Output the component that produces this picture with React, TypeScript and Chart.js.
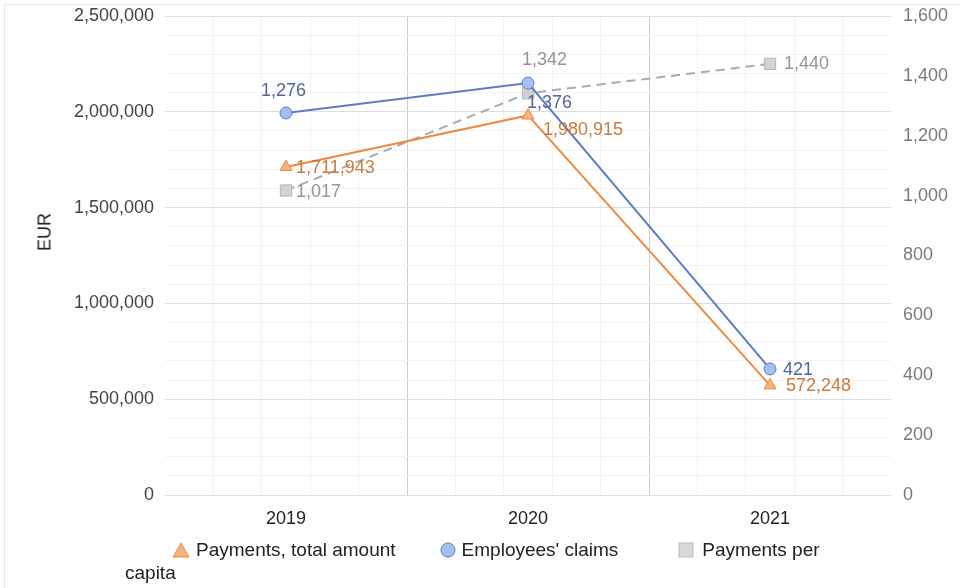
import { useEffect, useRef } from "react";
import { Chart, registerables } from "chart.js";

Chart.register(...registerables);

const years = ["2019", "2020", "2021"];
const paymentsTotal = [1711943, 1980915, 572248];
const employeesClaims = [1276, 1376, 421];
const paymentsPerCapita = [1017, 1342, 1440];

const FONT = "'Liberation Sans', Arial, sans-serif";

// label offsets [dx, dy] from each point, per dataset
const labelOffsets = [
  [[10, 1], [15, 15], [16, 1]],
  [[-25, -22], [-1, 20], [13, 1]],
  [[10, 1], [-6, -33], [14, 0]],
];
const labelColors = ["#c87a3f", "#4f6696", "#959595"];

const valueLabels = {
  id: "valueLabels",
  afterDatasetsDraw(chart: any) {
    const ctx = chart.ctx;
    chart.data.datasets.forEach((ds: any, i: number) => {
      const meta = chart.getDatasetMeta(i);
      meta.data.forEach((pt: any, j: number) => {
        const [dx, dy] = labelOffsets[i][j];
        ctx.save();
        ctx.font = `18px ${FONT}`;
        ctx.fillStyle = labelColors[i];
        ctx.textAlign = "left";
        ctx.textBaseline = "middle";
        ctx.fillText(Number(ds.data[j]).toLocaleString("en-US"), pt.x + dx, pt.y + dy);
        ctx.restore();
      });
    });
  },
};

export default function App() {
  const canvasRef = useRef<HTMLCanvasElement>(null);
  const chartRef = useRef<Chart | null>(null);

  useEffect(() => {
    if (!canvasRef.current) return;
    const ctx = canvasRef.current.getContext("2d");
    if (!ctx) return;

    chartRef.current = new Chart(ctx, {
      type: "line",
      data: {
        labels: years,
        datasets: [
          {
            label: "Payments, total amount",
            data: paymentsTotal,
            yAxisID: "y",
            borderColor: "#ee8a3f",
            backgroundColor: "#f5b382",
            pointBorderColor: "#ee8a3f",
            pointStyle: "triangle",
            pointRadius: 7,
            borderWidth: 2,
            pointBorderWidth: 1,
          },
          {
            label: "Employees' claims",
            data: employeesClaims,
            yAxisID: "y1",
            borderColor: "#5a7cc3",
            backgroundColor: "#a4c0ef",
            pointBorderColor: "#5a7cc3",
            pointStyle: "circle",
            pointRadius: 6,
            borderWidth: 2,
            pointBorderWidth: 1,
          },
          {
            label: "Payments per capita",
            data: paymentsPerCapita,
            yAxisID: "y1",
            borderColor: "#ababab",
            backgroundColor: "#d2d2d2",
            pointBorderColor: "#b5b5b5",
            pointStyle: "rect",
            pointRadius: 8,
            borderWidth: 2,
            borderDash: [9, 6],
            pointBorderWidth: 1,
          },
        ],
      },
      options: {
        responsive: true,
        maintainAspectRatio: false,
        animation: false,
        layout: { padding: { top: 16, left: 0, right: 0, bottom: 0 } },
        plugins: {
          legend: { display: false },
          tooltip: { enabled: false },
        },
        scales: {
          x: {
            type: "category",
            offset: true,
            grid: { display: false },
            border: { display: false },
            ticks: { color: "#222", font: { size: 18, family: FONT }, padding: 5 },
            afterFit: (s: any) => {
              s.height = 93;
            },
          },
          xg: {
            type: "linear",
            position: "bottom",
            min: 0,
            max: 15,
            border: { display: false },
            ticks: { display: false, stepSize: 1, autoSkip: false },
            grid: {
              drawTicks: false,
              color: (c: any) => {
                const v = c.tick?.value;
                if (v === 0 || v === 15) return "rgba(0,0,0,0)";
                return v % 5 === 0 ? "#cdcdcd" : "#f2f2f2";
              },
            },
          },
          y: {
            type: "linear",
            position: "left",
            min: 0,
            max: 2500000,
            border: { display: false },
            grid: {
              drawTicks: false,
              color: (c: any) =>
                c.tick?.value % 500000 === 0 ? "#dcdcdc" : "#f3f3f3",
            },
            ticks: {
              stepSize: 100000,
              autoSkip: false,
              padding: 11,
              color: "#444",
              font: { size: 18, family: FONT },
              callback: (v: any) =>
                Number(v) % 500000 === 0 ? Number(v).toLocaleString("en-US") : "",
            },
            afterFit: (s: any) => {
              s.width = 165;
              s.paddingTop = 0;
            },
          },
          y1: {
            type: "linear",
            position: "right",
            min: 0,
            max: 1600,
            border: { display: false },
            grid: { display: false, drawTicks: false },
            ticks: {
              stepSize: 200,
              padding: 12,
              color: "#7a7a7a",
              font: { size: 18, family: FONT },
              callback: (v: any) => Number(v).toLocaleString("en-US"),
            },
            afterFit: (s: any) => {
              s.width = 69;
              s.paddingTop = 0;
            },
          },
        },
      },
      plugins: [valueLabels],
    } as any);

    return () => {
      if (chartRef.current) {
        chartRef.current.destroy();
        chartRef.current = null;
      }
    };
  }, []);

  const legendText = { fontFamily: FONT, fontSize: 19, color: "#222" };

  return (
    <div
      style={{
        position: "absolute",
        left: 0,
        top: 0,
        width: 960,
        height: 588,
        background: "#fff",
        overflow: "hidden",
      }}
    >
      <div
        style={{
          position: "absolute",
          left: 4,
          top: 4,
          right: -2,
          bottom: -2,
          borderTop: "1px solid #e8e8e8",
          borderLeft: "1px solid #e8e8e8",
        }}
      />
      <div style={{ position: "absolute", left: 0, top: 0, width: 960, height: 588 }}>
        <canvas ref={canvasRef} />
      </div>
      {/* Axis title */}
      <div
        style={{
          position: "absolute",
          left: 45,
          top: 232,
          transform: "translate(-50%, -50%) rotate(-90deg)",
          fontFamily: FONT,
          fontSize: 18,
          color: "#222",
          whiteSpace: "nowrap",
        }}
      >
        EUR
      </div>
      {/* Legend */}
      <div
        style={{
          ...legendText,
          position: "absolute",
          left: 125,
          top: 538,
          lineHeight: "23px",
          textIndent: 47,
          whiteSpace: "nowrap",
        }}
      >
        <svg width="18" height="16" style={{ verticalAlign: "-2px", marginRight: 6 }}>
          <polygon points="9,1 17,15 1,15" fill="#f5b382" stroke="#ee8a3f" strokeWidth="1" />
        </svg>
        <span style={{ marginRight: 44 }}>Payments, total amount</span>
        <svg width="16" height="16" style={{ verticalAlign: "-2px", marginRight: 6 }}>
          <circle cx="8" cy="8" r="7" fill="#a4c0ef" stroke="#5a7cc3" strokeWidth="1" />
        </svg>
        <span style={{ marginRight: 60 }}>Employees' claims</span>
        <svg width="16" height="16" style={{ verticalAlign: "-2px", marginRight: 8 }}>
          <rect x="1" y="1" width="14" height="14" fill="#d9d9d9" stroke="#bdbdbd" strokeWidth="1" />
        </svg>
        <span>Payments per</span>
        <br />
        <span>capita</span>
      </div>
    </div>
  );
}
